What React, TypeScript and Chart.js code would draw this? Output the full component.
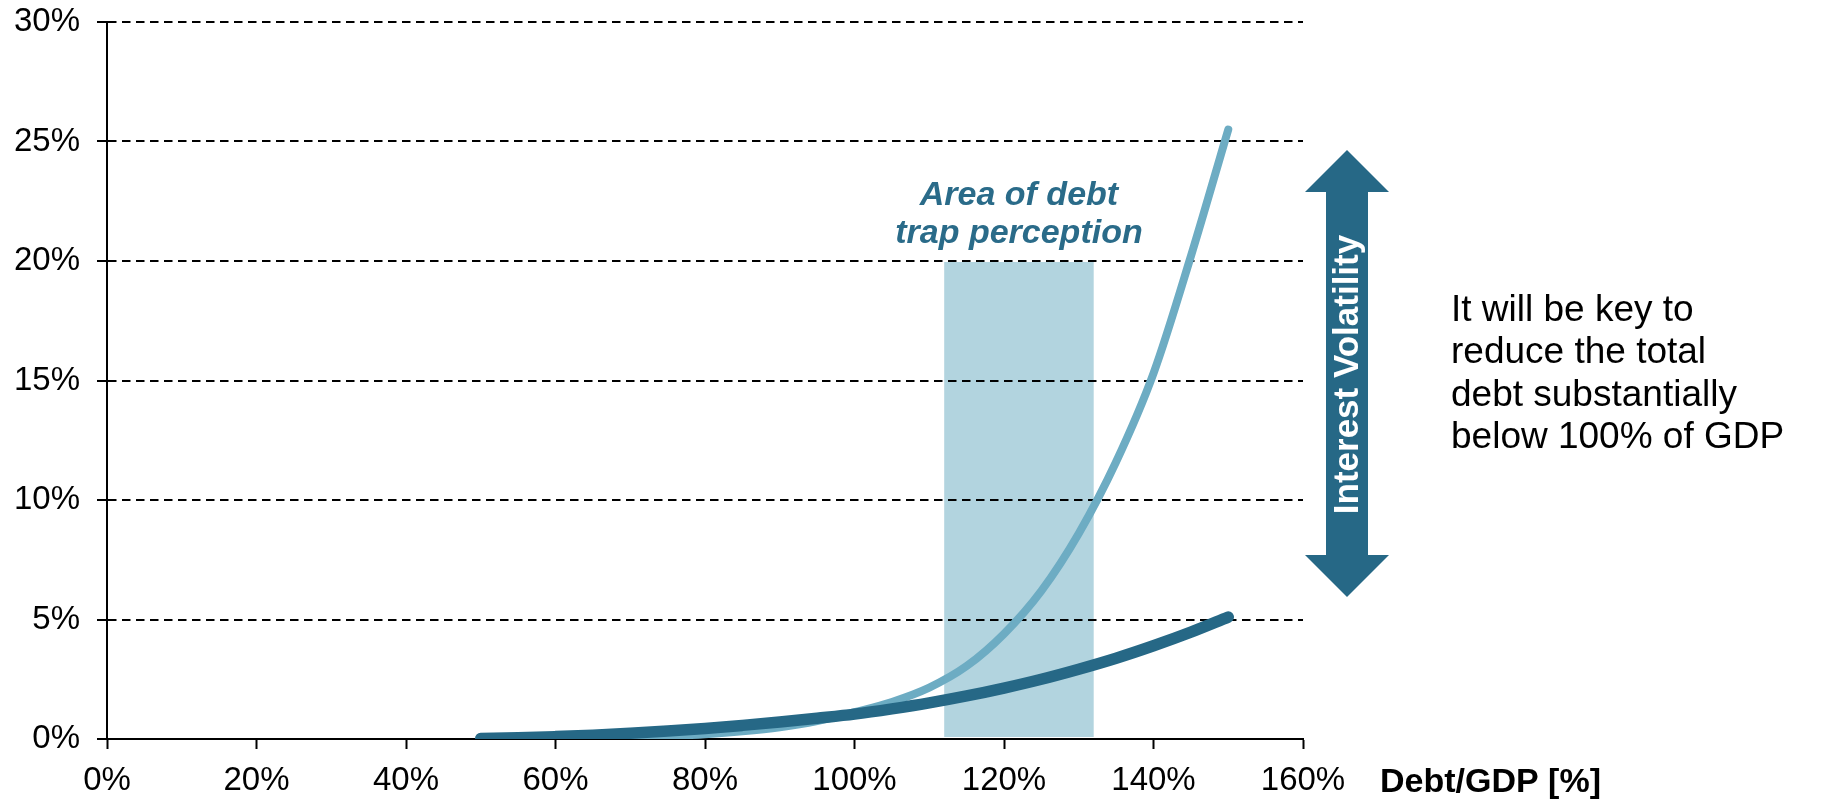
import { useEffect, useRef } from "react";
import { Chart, registerables } from "chart.js";

Chart.register(...registerables);

// Debt-to-GDP ratio (%) sampled along both curves
const debtToGdp = [50, 55, 60, 65, 70, 75, 80, 85, 90, 95, 100, 105, 110, 115, 120, 125, 130, 135, 140, 145, 150];
// Interest burden under high rate volatility (%)
const rateHighVolatility = [0.0, 0.01, 0.02, 0.04, 0.07, 0.12, 0.2, 0.32, 0.49, 0.75, 1.12, 1.55, 2.15, 3.05, 4.4, 6.2, 8.6, 11.6, 15.3, 20.2, 25.5];
// Interest burden under low rate volatility (%)
const rateLowVolatility = [0.02, 0.05, 0.1, 0.16, 0.24, 0.33, 0.44, 0.57, 0.71, 0.87, 1.04, 1.26, 1.51, 1.8, 2.13, 2.5, 2.92, 3.38, 3.9, 4.47, 5.1];

// Shaded "debt trap" band: debt/GDP range and its height on the rate axis
const trapZone = [112, 132];
const trapZoneTop = 20;

const trapLabel = ["Area of debt", "trap perception"];
const arrowLabel = "Interest Volatility";
const noteLines = ["It will be key to", "reduce the total", "debt substantially", "below 100% of GDP"];
const xAxisTitle = "Debt/GDP [%]";

const DARK = "#266886";
const LIGHT = "#6DACC3";
const SHADE = "#B2D4DF";
const FONT = "'Liberation Sans', Arial, sans-serif";

const shadePlugin = {
  id: "trapShade",
  beforeDraw(chart: any) {
    const { ctx, scales } = chart;
    const x = scales.x;
    const y = scales.y;
    const x0 = x.getPixelForValue(trapZone[0]);
    const x1 = x.getPixelForValue(trapZone[1]);
    const y0 = y.getPixelForValue(0) - 2;
    const y1 = y.getPixelForValue(trapZoneTop) + 1;
    ctx.save();
    ctx.fillStyle = SHADE;
    ctx.fillRect(x0, y1, x1 - x0, y0 - y1);
    ctx.restore();
  },
};

const annotationPlugin = {
  id: "annotations",
  afterDraw(chart: any) {
    const { ctx, scales, chartArea } = chart;
    const x = scales.x;
    const y = scales.y;
    ctx.save();

    // label above the shaded band
    const bandCenter = (x.getPixelForValue(trapZone[0]) + x.getPixelForValue(trapZone[1])) / 2;
    const bandTop = y.getPixelForValue(trapZoneTop);
    ctx.fillStyle = "#2A6B89";
    ctx.font = `italic bold 34px ${FONT}`;
    ctx.textAlign = "center";
    ctx.textBaseline = "alphabetic";
    ctx.fillText(trapLabel[0], bandCenter, bandTop - 56);
    ctx.fillText(trapLabel[1], bandCenter, bandTop - 18);

    // double-headed volatility arrow
    const ax = chartArea.right + 44;
    const aTop = 150;
    const aBottom = 597;
    const shaftHalf = 21;
    const headHalf = 42;
    const headH = 42;
    ctx.fillStyle = DARK;
    ctx.beginPath();
    ctx.moveTo(ax, aTop);
    ctx.lineTo(ax + headHalf, aTop + headH);
    ctx.lineTo(ax + shaftHalf, aTop + headH);
    ctx.lineTo(ax + shaftHalf, aBottom - headH);
    ctx.lineTo(ax + headHalf, aBottom - headH);
    ctx.lineTo(ax, aBottom);
    ctx.lineTo(ax - headHalf, aBottom - headH);
    ctx.lineTo(ax - shaftHalf, aBottom - headH);
    ctx.lineTo(ax - shaftHalf, aTop + headH);
    ctx.lineTo(ax - headHalf, aTop + headH);
    ctx.closePath();
    ctx.fill();

    ctx.save();
    ctx.translate(ax + 1, (aTop + aBottom) / 2 + 1);
    ctx.rotate(-Math.PI / 2);
    ctx.fillStyle = "#FFFFFF";
    ctx.font = `bold 35px ${FONT}`;
    ctx.textAlign = "center";
    ctx.textBaseline = "middle";
    ctx.fillText(arrowLabel, 0, 0);
    ctx.restore();

    // side note
    ctx.fillStyle = "#000000";
    ctx.font = `37px ${FONT}`;
    ctx.textAlign = "left";
    ctx.textBaseline = "alphabetic";
    noteLines.forEach((line, i) => {
      ctx.fillText(line, 1451, 321 + i * 42.3);
    });

    // x-axis title, placed to the right of the last tick
    ctx.font = `bold 34px ${FONT}`;
    ctx.fillText(xAxisTitle, chartArea.right + 77, 792);

    ctx.restore();
  },
};

export default function App() {
  const canvasRef = useRef<HTMLCanvasElement | null>(null);

  useEffect(() => {
    if (!canvasRef.current) return;
    const chart = new Chart(canvasRef.current, {
      type: "line",
      data: {
        datasets: [
          {
            label: "Low volatility",
            data: debtToGdp.map((d, i) => ({ x: d, y: rateLowVolatility[i] })),
            borderColor: DARK,
            borderWidth: 11.5,
            borderCapStyle: "round",
            borderJoinStyle: "round",
            pointRadius: 0,
            cubicInterpolationMode: "monotone",
            fill: false,
          },
          {
            label: "High volatility",
            data: debtToGdp.map((d, i) => ({ x: d, y: rateHighVolatility[i] })),
            borderColor: LIGHT,
            borderWidth: 8,
            borderCapStyle: "round",
            borderJoinStyle: "round",
            pointRadius: 0,
            cubicInterpolationMode: "monotone",
            fill: false,
          },
        ],
      },
      options: {
        responsive: false,
        animation: false,
        devicePixelRatio: 1,
        layout: { padding: { top: 22, right: 525, bottom: 0, left: 0 } },
        plugins: {
          legend: { display: false },
          tooltip: { enabled: false },
        },
        scales: {
          x: {
            type: "linear",
            min: 0,
            max: 160,
            afterFit: (s: any) => {
              s.height = 61;
              s.paddingLeft = 0;
              s.paddingRight = 0;
            },
            ticks: {
              stepSize: 20,
              padding: 12,
              color: "#000000",
              font: { family: FONT, size: 33 },
              callback: (v: any) => `${v}%`,
            },
            grid: {
              drawOnChartArea: false,
              drawTicks: true,
              tickLength: 10,
              tickColor: "#000000",
              tickWidth: 2,
            },
            border: { display: true, color: "#000000", width: 2 },
          },
          y: {
            min: 0,
            max: 30,
            afterFit: (s: any) => {
              s.width = 107;
              s.paddingTop = 0;
              s.paddingBottom = 0;
            },
            ticks: {
              stepSize: 5,
              padding: 17,
              color: "#000000",
              font: { family: FONT, size: 33 },
              callback: (v: any) => `${v}%`,
            },
            grid: {
              drawOnChartArea: true,
              color: "#000000",
              lineWidth: 2,
              drawTicks: true,
              tickLength: 10,
              tickColor: "#000000",
              tickWidth: 2,
            },
            border: { display: true, color: "#000000", width: 2, dash: [8.5, 5.5] },
          },
        },
      },
      plugins: [shadePlugin, annotationPlugin],
    } as any);
    return () => chart.destroy();
  }, []);

  return (
    <div style={{ position: "absolute", left: 0, top: 0, width: 1828, height: 800, background: "#FFFFFF" }}>
      <canvas ref={canvasRef} width={1828} height={800} style={{ display: "block" }} />
    </div>
  );
}
